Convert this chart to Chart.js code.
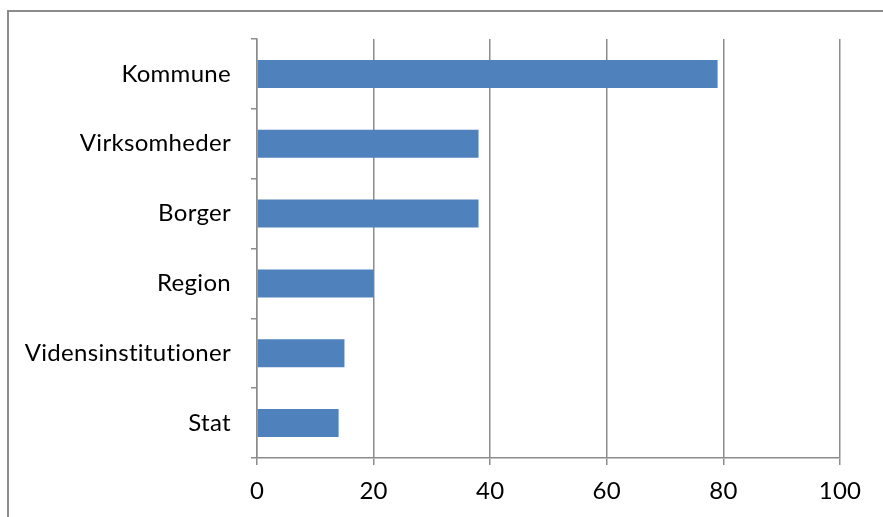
<!DOCTYPE html>
<html>
<head>
<meta charset="utf-8">
<script src="https://cdn.jsdelivr.net/npm/chart.js@4.4.0/dist/chart.umd.min.js"></script>
<style>
    html, body { margin: 0; padding: 0; background: #fff; overflow: hidden; }
    #frame {
        position: absolute; left: 7px; top: 10px;
        width: 960px; height: 600px;
        border: 2px solid #8c8c8c;
    }
    #chart { position: absolute; left: 0; top: 0; }
</style>
</head>
<body>
<div id="frame"></div>
<canvas id="chart" width="883" height="517"></canvas>
<script>
// Chart data
const categories = ['Kommune', 'Virksomheder', 'Borger', 'Region', 'Vidensinstitutioner', 'Stat'];
const values = [79, 38, 38, 20, 15, 14];
const xTicks = [0, 20, 40, 60, 80, 100];

const FONT = 'Lato, "Open Sans", sans-serif';
const GRID = '#8c8c8c';

// Small letter spacing keeps Lato from joining "ti" into a ligature
const noLigatures = {
    id: 'noLigatures',
    beforeDraw(chart) {
        chart.ctx.letterSpacing = '0.3px';
    }
};

function initChart() {
    const ctx = document.getElementById('chart').getContext('2d');
    window.barChart = new Chart(ctx, {
        type: 'bar',
        data: {
            labels: categories,
            datasets: [{
                data: values,
                backgroundColor: '#4f81bd',
                borderWidth: 0,
                barPercentage: 1,
                categoryPercentage: 0.4
            }]
        },
        options: {
            indexAxis: 'y',
            responsive: false,
            animation: false,
            layout: { padding: { top: 39, right: 43, left: 0, bottom: 0 } },
            plugins: {
                legend: { display: false },
                tooltip: { enabled: false }
            },
            scales: {
                x: {
                    min: xTicks[0],
                    max: xTicks[xTicks.length - 1],
                    afterBuildTicks: (scale) => { scale.ticks = xTicks.map(v => ({ value: v })); },
                    grid: { color: GRID, lineWidth: 1.5, tickLength: 7, tickColor: GRID },
                    border: { color: GRID, width: 1.5 },
                    ticks: { color: '#000', font: { family: FONT, size: 24 }, padding: 12 },
                    afterFit: (scale) => { scale.height = 59; }
                },
                y: {
                    grid: { drawOnChartArea: false, color: GRID, lineWidth: 1.5, tickLength: 6, tickColor: GRID },
                    border: { color: GRID, width: 1.5 },
                    ticks: { color: '#000', font: { family: FONT, size: 24 }, padding: 20 },
                    afterFit: (scale) => { scale.width = 257; }
                }
            }
        },
        plugins: [noLigatures]
    });
}

document.addEventListener('DOMContentLoaded', initChart);
</script>
</body>
</html>
